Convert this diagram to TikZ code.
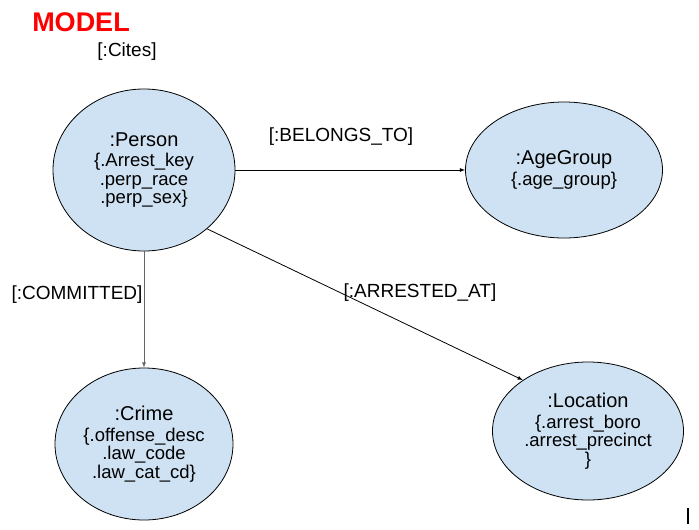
\documentclass[tikz,border=0pt]{standalone}
\usepackage{fontspec}
\setmainfont{Liberation Sans}
\usetikzlibrary{shapes.geometric}
\definecolor{nodeblue}{HTML}{CFE2F3}
\definecolor{modelred}{HTML}{FF0000}
\definecolor{edgegray}{HTML}{666666}
\newcommand{\enttitle}[1]{{\fontsize{20}{22}\selectfont #1}}
\tikzset{
  entity/.style={ellipse, draw=black, fill=nodeblue, line width=0.8pt, align=center, inner sep=0pt,
    font=\fontsize{18.5}{18.5}\selectfont},
  rel/.style={inner sep=1pt}
}
\begin{document}
\begin{tikzpicture}[>=latex, x=1pt, y=-1pt, font=\fontsize{19}{21}\selectfont]
\useasboundingbox (0,0) rectangle (699,530);

\node[text=modelred, font=\fontsize{27}{30}\selectfont\bfseries] (model) at (81,22) {MODEL};
\node[rel] (cites) at (127,52) {[:Cites]};

\node[entity, minimum width=182pt, minimum height=162pt] (person) at (144,170)
  {\enttitle{:Person}\\[2pt]\{.Arrest\_key\\.perp\_race\\.perp\_sex\}};
\node[entity, minimum width=197pt, minimum height=136pt] (agegroup) at (564,170)
  {\enttitle{:AgeGroup}\\[2pt]\{.age\_group\}};
\node[entity, minimum width=178pt, minimum height=152pt] (crime) at (144,444)
  {\enttitle{:Crime}\\[2pt]\{.offense\_desc\\.law\_code\\.law\_cat\_cd\}};
\node[entity, minimum width=191pt, minimum height=138pt] (location) at (588,431)
  {\enttitle{:Location}\\[2pt]\{.arrest\_boro\\.arrest\_precinct\\\}};

\draw[->, line width=0.8pt](person.east)--(agegroup.west);
\draw[->, line width=0.8pt, draw=edgegray](person.south)--(crime.north);
\draw[->, line width=0.8pt](person.-43)--(location.142);

\node[rel] (belongs) at (341,137) {[:BELONGS\_TO]};
\node[rel] (committed) at (77,295) {[:COMMITTED]};
\node[rel] (arrested) at (420,293) {[:ARRESTED\_AT]};

\draw[line width=1.2pt] (688,508)--(688,524);

\end{tikzpicture}
\end{document}
